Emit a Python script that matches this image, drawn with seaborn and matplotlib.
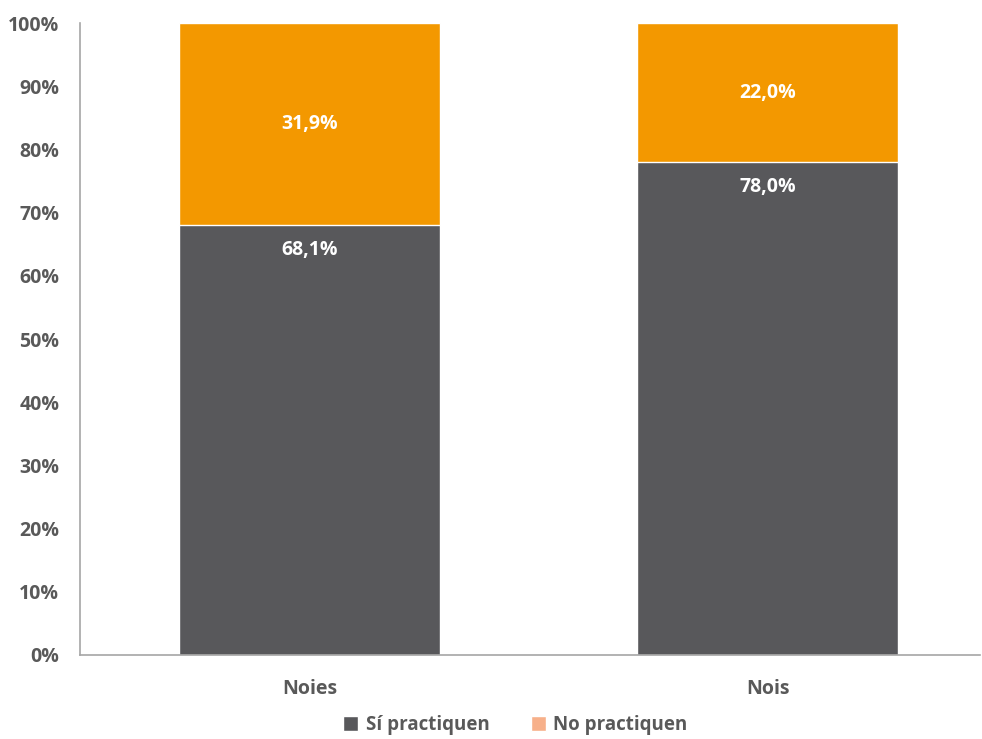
import matplotlib
matplotlib.use("Agg")
import matplotlib.pyplot as plt
from matplotlib.patches import Patch
import seaborn as sns
import pandas as pd

categories = ["Noies", "Nois"]
si_practiquen = [68.1, 78.0]
no_practiquen = [31.9, 22.0]
y_ticks = [0, 10, 20, 30, 40, 50, 60, 70, 80, 90, 100]

dark = "#58585b"
orange = "#f39800"
legend_orange = "#f7b08a"
text_gray = "#595959"

sns.set_theme(style="white")
plt.rcParams["font.family"] = ["Open Sans", "DejaVu Sans"]

df = pd.DataFrame({
    "grup": categories,
    "si": si_practiquen,
    "no": no_practiquen,
})
df["total"] = df["si"] + df["no"]

fig = plt.figure(figsize=(9.82, 7.39), dpi=100)
ax = fig.add_axes([80 / 982, 1 - 655 / 739, 900 / 982, 632 / 739])

# stacked bars: total in orange, "Sí" portion on top in dark gray
sns.barplot(data=df, x="grup", y="total", color=orange, width=0.57,
            saturation=1, ax=ax, edgecolor="white", linewidth=1)
sns.barplot(data=df, x="grup", y="si", color=dark, width=0.57,
            saturation=1, ax=ax, edgecolor="white", linewidth=1)

ax.set_ylim(0, 100)
ax.set_xlim(-0.502, 1.463)
ax.set_yticks(y_ticks)
ax.set_yticklabels([f"{t}%" for t in y_ticks])
ax.set_xlabel("")
ax.set_ylabel("")
ax.tick_params(axis="both", length=0, labelsize=14, colors=text_gray)
ax.tick_params(axis="y", pad=15)
ax.tick_params(axis="x", pad=17)
for lab in ax.get_xticklabels() + ax.get_yticklabels():
    lab.set_fontweight("bold")

for side in ["top", "right"]:
    ax.spines[side].set_visible(False)
for side in ["left", "bottom"]:
    ax.spines[side].set_color("#a6a6a6")
    ax.spines[side].set_linewidth(1.2)

def fmt(v):
    return f"{v:.1f}%".replace(".", ",")

for i, (s, n) in enumerate(zip(si_practiquen, no_practiquen)):
    ax.text(i, s - 4.0, fmt(s), ha="center", va="center", color="white",
            fontsize=14, fontweight="bold")
    ax.text(i, s + n / 2, fmt(n), ha="center", va="center", color="white",
            fontsize=14, fontweight="bold")

handles = [Patch(facecolor=dark, label="Sí practiquen"),
           Patch(facecolor=legend_orange, label="No practiquen")]
leg = fig.legend(handles=handles, loc="center", bbox_to_anchor=(0.525, 1 - 725 / 739),
                 ncol=2, frameon=False, handlelength=0.8, handleheight=0.8,
                 handletextpad=0.4, columnspacing=2.2,
                 borderpad=0.2, prop={"size": 13.5, "weight": "bold"})
for t in leg.get_texts():
    t.set_color(text_gray)

fig.savefig("out.png", dpi=100)
